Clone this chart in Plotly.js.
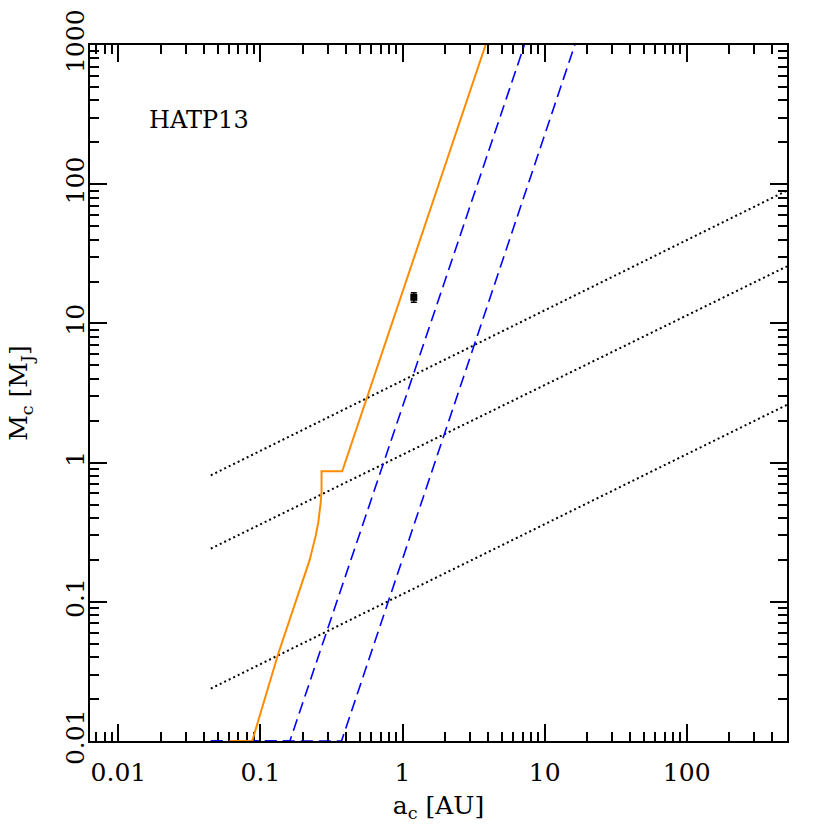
<!DOCTYPE html>
<html>
<head>
<meta charset="utf-8">
<script src="https://cdn.plot.ly/plotly-3.0.1.min.js"></script>
<style>
  body { margin: 0; background: #fff; }
  #chart { width: 830px; height: 830px; }
</style>
</head>
<body>
<div id="chart"></div>
<script>
// Orange solid curve (a_c [AU], M_c [M_J])
const orangeX = [0.0605, 0.0874, 0.133, 0.222, 0.245, 0.255, 0.265, 0.269, 0.269, 0.376, 3.84];
const orangeY = [0.01, 0.01, 0.042, 0.2, 0.3, 0.37, 0.51, 0.62, 0.866, 0.866, 1000];

// Blue dashed lines
const blueLeftX = [0.0447, 0.161, 7.2];
const blueLeftY = [0.01, 0.01, 1000];
const blueRightX = [0.0447, 0.372, 16.3];
const blueRightY = [0.01, 0.01, 1000];

// Black dotted lines
const dotX = [0.0447, 508];
const dotUpperY = [0.81, 90];
const dotMiddleY = [0.241, 25.7];
const dotLowerY = [0.0238, 2.6];

// Measured companion
const pointX = [1.2];
const pointY = [15.4];
const pointErr = [1.2];

const tickVals = [0.01, 0.1, 1, 10, 100, 1000];
const tickText = ["0.01", "0.1", "1", "10", "100", "1000"];

const serif = "DejaVu Serif";

const dotLine = { color: "black", width: 2, dash: "2px,3px" };
const blueLine = { color: "#0000ff", width: 1.6, dash: "12px,6px" };

const traces = [
    { x: dotX, y: dotUpperY, mode: "lines", line: dotLine },
    { x: dotX, y: dotMiddleY, mode: "lines", line: dotLine },
    { x: dotX, y: dotLowerY, mode: "lines", line: dotLine },
    { x: blueLeftX, y: blueLeftY, mode: "lines", line: blueLine },
    { x: blueRightX, y: blueRightY, mode: "lines", line: blueLine },
    { x: orangeX, y: orangeY, mode: "lines", line: { color: "#ff8c00", width: 2 } },
    {
        x: pointX, y: pointY, mode: "markers",
        marker: { symbol: "square", size: 7, color: "black" },
        error_y: { type: "data", array: pointErr, color: "black", thickness: 1.5, width: 3 }
    }
];

const axisCommon = {
    type: "log",
    showgrid: false,
    zeroline: false,
    showline: true,
    linecolor: "black",
    linewidth: 2,
    mirror: "allticks",
    ticks: "inside",
    ticklen: 17,
    tickwidth: 2,
    tickcolor: "black",
    tickmode: "array",
    tickvals: tickVals,
    ticktext: tickText,
    tickfont: { family: serif, size: 25, color: "black" },
    minor: { ticks: "inside", ticklen: 9, tickwidth: 2, tickcolor: "black", dtick: "D1", showgrid: false }
};

const layout = {
    width: 830,
    height: 830,
    autosize: false,
    showlegend: false,
    paper_bgcolor: "white",
    plot_bgcolor: "white",
    margin: { l: 90, r: 43, t: 45, b: 89 },
    xaxis: Object.assign({}, axisCommon, {
        range: [-2.2, 2.706],
        layer: "below traces",
        ticklabelstandoff: 8,
        title: { text: "a<sub>c</sub> [AU]", font: { family: serif, size: 25, color: "black" }, standoff: 10 }
    }),
    yaxis: Object.assign({}, axisCommon, {
        range: [-2, 3],
        tickangle: -90,
        ticklabelstandoff: -6,
        title: { text: "M<sub>c</sub> [M<sub>J</sub>]", font: { family: serif, size: 25, color: "black" }, standoff: 26 }
    }),
    annotations: [{
        text: "HATP13",
        xref: "paper", yref: "paper",
        x: 0.157, y: 0.892,
        xanchor: "center", yanchor: "middle",
        showarrow: false,
        font: { family: serif, size: 24, color: "black" }
    }]
};

Plotly.newPlot("chart", traces, layout, { staticPlot: true });
</script>
</body>
</html>
